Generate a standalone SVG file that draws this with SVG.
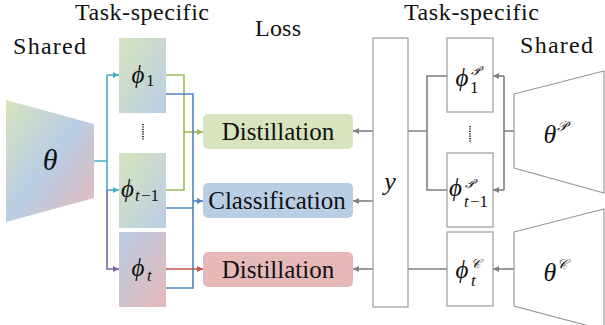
<svg xmlns="http://www.w3.org/2000/svg" width="605" height="325" viewBox="0 0 605 325">
<style>
.lbl{font-family:"Liberation Serif","Times New Roman",serif;font-size:24px;fill:#111}
.loss{font-family:"Liberation Serif","Times New Roman",serif;font-size:25px;fill:#111;text-anchor:middle}
.m{font-family:"Liberation Serif","Times New Roman",serif;font-style:italic;fill:#111}
.r{font-family:"Liberation Serif","Times New Roman",serif;fill:#111}
.gbox{fill:#fff;stroke:#9a9a9a;stroke-width:1.2}
.c{fill:none;stroke-width:1.6}
.dots{stroke:#111;stroke-width:1.6;stroke-dasharray:1.2 1.2}
</style>
<defs>
<linearGradient id="gGB" x1="0" y1="0" x2="1" y2="1"><stop offset="0" stop-color="#d7e4bd"/><stop offset="1" stop-color="#b9cde5"/></linearGradient>
<linearGradient id="gBR" x1="0" y1="0" x2="1" y2="1"><stop offset="0" stop-color="#b9cde5"/><stop offset="1" stop-color="#e6b9b8"/></linearGradient>
<linearGradient id="gT" x1="0" y1="0" x2="1" y2="1"><stop offset="0" stop-color="#d7e4bd"/><stop offset="0.5" stop-color="#b9cde5"/><stop offset="1" stop-color="#e6b9b8"/></linearGradient>
<marker id="aC" viewBox="0 0 6 6" refX="6" refY="3" markerWidth="6" markerHeight="6" markerUnits="userSpaceOnUse" orient="auto"><path d="M0,0L6,3L0,6z" fill="#4bacc6"/></marker>
<marker id="aG" viewBox="0 0 6 6" refX="6" refY="3" markerWidth="6" markerHeight="6" markerUnits="userSpaceOnUse" orient="auto"><path d="M0,0L6,3L0,6z" fill="#9bbb59"/></marker>
<marker id="aB" viewBox="0 0 6 6" refX="6" refY="3" markerWidth="6" markerHeight="6" markerUnits="userSpaceOnUse" orient="auto"><path d="M0,0L6,3L0,6z" fill="#4f81bd"/></marker>
<marker id="aP" viewBox="0 0 6 6" refX="6" refY="3" markerWidth="6" markerHeight="6" markerUnits="userSpaceOnUse" orient="auto"><path d="M0,0L6,3L0,6z" fill="#8064a2"/></marker>
<marker id="aR" viewBox="0 0 6 6" refX="6" refY="3" markerWidth="6" markerHeight="6" markerUnits="userSpaceOnUse" orient="auto"><path d="M0,0L6,3L0,6z" fill="#c0504d"/></marker>
<marker id="aY" viewBox="0 0 6 6" refX="6" refY="3" markerWidth="6" markerHeight="6" markerUnits="userSpaceOnUse" orient="auto"><path d="M0,0L6,3L0,6z" fill="#808080"/></marker>
</defs>
<rect width="605" height="325" fill="#fff"/>

<g id="headers">
<text class="lbl" x="13" y="54" textLength="73">Shared</text>
<text class="lbl" x="75" y="20" font-size="23" textLength="134">Task-specific</text>
<text class="lbl" x="255" y="36" textLength="46">Loss</text>
<text class="lbl" x="404" y="20" font-size="23" textLength="135">Task-specific</text>
<text class="lbl" x="520" y="53" textLength="73">Shared</text>
</g>

<g id="connectors">
<g stroke="#4bacc6">
<path class="c" d="M94,161H107M107,75V190"/>
<path class="c" d="M107,75H119" marker-end="url(#aC)"/>
<path class="c" d="M107,190H119" marker-end="url(#aC)"/>
</g>
<g stroke="#8064a2">
<path class="c" d="M107,190V269H119" marker-end="url(#aP)"/>
</g>
<g stroke="#9bbb59">
<path class="c" d="M166,75H184V190H166"/>
<path class="c" d="M184,132H203" marker-end="url(#aG)"/>
</g>
<g stroke="#4f81bd">
<path class="c" d="M166,94H193V288H166M166,208H193"/>
<path class="c" d="M193,201H203" marker-end="url(#aB)"/>
</g>
<g stroke="#c0504d">
<path class="c" d="M166,269H203" marker-end="url(#aR)"/>
</g>
<g stroke="#808080">
<path class="c" d="M514,131H504M504,76V190"/>
<path class="c" d="M504,76H493" marker-end="url(#aY)"/>
<path class="c" d="M504,190H493" marker-end="url(#aY)"/>
<path class="c" d="M447,76H427V190H447M427,131H405"/>
<path class="c" d="M405,131H377M405,269H377" stroke-dasharray="1.5 1.5"/>
<path class="c" d="M373,131H353" marker-end="url(#aY)"/>
<path class="c" d="M373,201H353" marker-end="url(#aY)"/>
<path class="c" d="M514,269H493" marker-end="url(#aY)"/>
<path class="c" d="M447,269H405"/>
<path class="c" d="M373,269H353" marker-end="url(#aY)"/>
</g>
</g>

<g id="theta">
<polygon points="6,100 94,124 94,198 6,222" fill="url(#gT)"/>
<text class="m" x="50" y="170" font-size="30" text-anchor="middle">θ</text>
</g>

<g id="phi1">
<rect x="119" y="38" width="47" height="75" fill="url(#gGB)"/>
<text class="m" x="138" y="83" font-size="25" text-anchor="middle">ϕ</text>
<text class="r" x="146" y="86" font-size="17">1</text>
</g>
<g id="dotsL"><line class="dots" x1="143" y1="124" x2="143" y2="140"/></g>
<g id="phit1">
<rect x="119" y="153" width="47" height="75" fill="url(#gGB)"/>
<text class="m" x="121" y="197" font-size="25">ϕ</text>
<text class="m" x="135" y="201" font-size="17">t</text>
<text class="r" x="141" y="201" font-size="17">−1</text>
</g>
<g id="phit">
<rect x="119" y="232" width="47" height="75" fill="url(#gBR)"/>
<text class="m" x="138" y="276" font-size="25" text-anchor="middle">ϕ</text>
<text class="m" x="147" y="281" font-size="17">t</text>
</g>

<g id="lossDist1">
<rect x="203" y="114" width="150" height="35" rx="5" fill="#d7e4bd"/>
<text class="loss" x="278" y="140">Distillation</text>
</g>
<g id="lossCls">
<rect x="203" y="183" width="150" height="35" rx="5" fill="#b9cde5"/>
<text class="loss" x="277" y="209">Classification</text>
</g>
<g id="lossDist2">
<rect x="203" y="252" width="150" height="35" rx="5" fill="#e6b9b8"/>
<text class="loss" x="278" y="278">Distillation</text>
</g>

<g id="y">
<rect class="gbox" x="373" y="38" width="35" height="269"/>
<text class="m" x="390" y="190" font-size="26" text-anchor="middle">y</text>
</g>

<g id="phiP1">
<rect class="gbox" x="447" y="38" width="46" height="74"/>
<text class="m" x="462" y="86" font-size="25" text-anchor="middle">ϕ</text>
<text class="m" x="471" y="75" font-size="13">𝒫</text>
<text class="r" x="470" y="93" font-size="17">1</text>
</g>
<g id="dotsR"><line class="dots" x1="470" y1="126" x2="470" y2="143"/></g>
<g id="phiPt1">
<rect class="gbox" x="447" y="153" width="46" height="74"/>
<text class="m" x="449" y="196" font-size="25">ϕ</text>
<text class="m" x="465" y="188" font-size="13">𝒫</text>
<text class="m" x="464" y="207" font-size="17">t</text>
<text class="r" x="470" y="207" font-size="17">−1</text>
</g>
<g id="phiCt">
<rect class="gbox" x="447" y="232" width="46" height="74"/>
<text class="m" x="462" y="278" font-size="25" text-anchor="middle">ϕ</text>
<text class="m" x="471" y="268" font-size="13">𝒞</text>
<text class="m" x="471" y="286" font-size="17">t</text>
</g>

<g id="thetaP">
<polygon class="gbox" points="514,94 604,71 604,193 514,168" stroke="#888"/>
<text class="m" x="550" y="143" font-size="26" text-anchor="middle">θ</text>
<text class="m" x="557" y="131" font-size="14">𝒫</text>
</g>
<g id="thetaC">
<polygon class="gbox" points="514,232 604,209 604,330 514,306" stroke="#888"/>
<text class="m" x="550" y="281" font-size="26" text-anchor="middle">θ</text>
<text class="m" x="557" y="269" font-size="14">𝒞</text>
</g>
</svg>
